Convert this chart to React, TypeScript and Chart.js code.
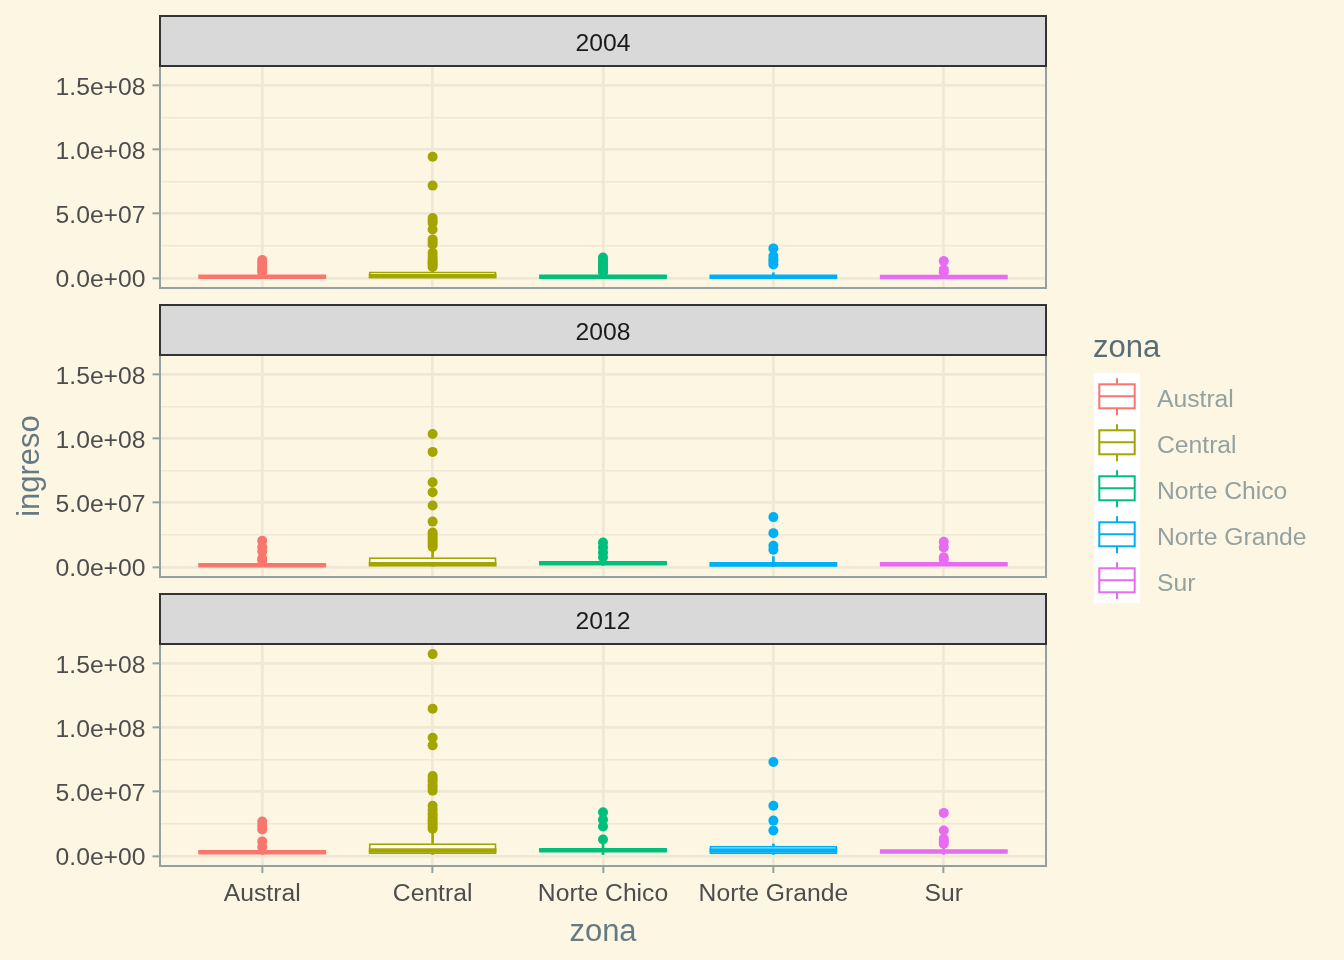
import React, { useEffect, useRef } from 'react';
import { Chart, registerables } from 'chart.js';

Chart.register(...registerables);

// ---------- data ----------
const zonas = ['Austral', 'Central', 'Norte Chico', 'Norte Grande', 'Sur'];
const years = ['2004', '2008', '2012'];
const zoneColors = ['#F8766D', '#A3A500', '#00BF7D', '#00B0F6', '#E76BF3'];

// per zone: [lower whisker, q1, median, q3, upper whisker]
const box2004 = [
  [0, 0.4e6, 0.9e6, 1.6e6, 3.5e6],
  [0, 0.3e6, 1.3e6, 5.0e6, 7.5e6],
  [0, 0.5e6, 1.0e6, 1.8e6, 3.5e6],
  [0, 0.5e6, 1.0e6, 1.8e6, 4.0e6],
  [0, 0.4e6, 0.8e6, 1.5e6, 3.5e6],
];
const box2008 = [
  [0, 0.6e6, 1.2e6, 2.2e6, 4.5e6],
  [0, 0.5e6, 2.0e6, 7.5e6, 13.7e6],
  [0, 2.0e6, 2.8e6, 3.8e6, 6.0e6],
  [0, 0.3e6, 1.8e6, 3.8e6, 8.0e6],
  [0, 1.2e6, 2.0e6, 3.0e6, 5.0e6],
];
const box2012 = [
  [0, 2.0e6, 2.8e6, 3.8e6, 6.0e6],
  [0, 1.2e6, 4.2e6, 9.8e6, 18.0e6],
  [0, 3.5e6, 4.5e6, 5.8e6, 9.0e6],
  [0, 1.2e6, 4.2e6, 7.9e6, 9.3e6],
  [0, 2.6e6, 3.5e6, 4.8e6, 8.0e6],
];

const out2004 = [
  [4.5e6, 6e6, 8e6, 10e6, 12e6, 13.9e6],
  [8.5e6, 10e6, 11.5e6, 13e6, 15e6, 17e6, 19.5e6, 26e6, 28e6, 30e6, 37.7e6, 42.8e6, 44.5e6, 46.7e6, 71.9e6, 94.4e6],
  [4.5e6, 6e6, 8e6, 10e6, 12e6, 14e6, 15.8e6],
  [10.5e6, 12.5e6, 14.5e6, 17e6, 23e6],
  [4.5e6, 6.5e6, 13.1e6],
];
const out2008 = [
  [5e6, 6.5e6, 12e6, 15.5e6, 20.3e6],
  [15.5e6, 17e6, 19e6, 21e6, 23e6, 25e6, 26.8e6, 35.3e6, 47.9e6, 58.1e6, 65.9e6, 89.6e6, 103.5e6],
  [7.5e6, 11.3e6, 15.2e6, 19e6],
  [13.4e6, 16.5e6, 26.3e6, 38.8e6],
  [5.5e6, 7.5e6, 15.2e6, 19.5e6],
];
const out2012 = [
  [7e6, 11.3e6, 20.6e6, 23.5e6, 26.8e6],
  [21.1e6, 23e6, 25e6, 27e6, 29e6, 31e6, 33e6, 36e6, 39.1e6, 50.7e6, 53e6, 55e6, 58e6, 60e6, 62.3e6, 86.1e6, 92e6, 114.7e6, 157.2e6],
  [12.8e6, 22.9e6, 28.1e6, 34e6],
  [19.8e6, 27.5e6, 39.1e6, 73.2e6],
  [9.5e6, 11.5e6, 13.4e6, 19.8e6, 33.5e6],
];

const yBreaks = [0, 5e7, 1e8, 1.5e8];
const yMinorBreaks = [2.5e7, 7.5e7, 1.25e8];

const boxes = [box2004, box2008, box2012];
const outliers = [out2004, out2008, out2012];

// ---------- style ----------
const FONT = "'Liberation Sans', Arial, Helvetica, sans-serif";
const BG = '#FDF6E3';
const GRID = '#EEE8D5';
const PANEL_BORDER = '#93A1A1';
const STRIP_FILL = '#D9D9D9';
const STRIP_BORDER = '#333333';
const TICK_TEXT = '#4D4D4D';
const TITLE_TEXT = '#657B83';
const LEGEND_TITLE = '#586E75';
const LEGEND_TEXT = '#93A1A1';

const W = 1344;
const H = 960;
const PANEL_LEFT = 160;
const PANEL_RIGHT = 1046;
const PANEL_TOPS = [66, 355, 644];
const PANEL_BOTTOMS = [288, 577, 866];
const STRIP_H = 50;

function sci(v: number): string {
  const [m, e] = v.toExponential(1).split('e');
  const sign = e[0] === '-' ? '-' : '+';
  const d = e.replace(/[+-]/, '').padStart(2, '0');
  return `${m}e${sign}${d}`;
}

const allValues = [...boxes.flat(2), ...outliers.flat(2)];
const dataMax = Math.max(...allValues);
const dataMin = Math.min(...allValues);
const span = dataMax - dataMin;
const Y_MIN = dataMin - 0.05 * span;
const Y_MAX = dataMax + 0.05 * span;

const isMajor = (v: number) => yBreaks.some((b) => Math.abs(b - v) < 1);

function makeConfig(p: number): any {
  const isLast = p === 2;
  const stats = boxes[p];
  const outs = outliers[p];
  const top = PANEL_TOPS[p];
  const bottom = PANEL_BOTTOMS[p];
  const xAxisH = isLast ? H - bottom : 0;

  const facetPlugin = {
    id: 'facet' + p,
    afterDraw(chart: any) {
      const { ctx, chartArea: a } = chart;
      ctx.save();
      ctx.strokeStyle = PANEL_BORDER;
      ctx.lineWidth = 2;
      ctx.strokeRect(a.left, a.top, a.right - a.left, a.bottom - a.top);
      ctx.fillStyle = STRIP_FILL;
      ctx.fillRect(a.left, a.top - STRIP_H, a.right - a.left, STRIP_H);
      ctx.strokeStyle = STRIP_BORDER;
      ctx.lineWidth = 2;
      ctx.strokeRect(a.left, a.top - STRIP_H, a.right - a.left, STRIP_H);
      ctx.fillStyle = '#1A1A1A';
      ctx.font = `24.7px ${FONT}`;
      ctx.textAlign = 'center';
      ctx.textBaseline = 'middle';
      ctx.fillText(years[p], (a.left + a.right) / 2, a.top - STRIP_H / 2 + 3.5);
      ctx.restore();
    },
  };

  const legendPlugin = {
    id: 'zonaLegend',
    afterDraw(chart: any) {
      const ctx = chart.ctx;
      ctx.save();
      ctx.fillStyle = LEGEND_TITLE;
      ctx.font = `31px ${FONT}`;
      ctx.textAlign = 'left';
      ctx.textBaseline = 'middle';
      ctx.fillText('zona', 1093, 348);
      const keyTop = 373.3;
      const keyH = 46;
      ctx.fillStyle = '#FFFFFF';
      ctx.fillRect(1094, keyTop, 46, keyH * zonas.length);
      zonas.forEach((z, k) => {
        const t = keyTop + k * keyH;
        const cx = 1117;
        ctx.strokeStyle = zoneColors[k];
        ctx.lineWidth = 2;
        ctx.beginPath();
        ctx.moveTo(cx, t + 5);
        ctx.lineTo(cx, t + 11);
        ctx.moveTo(cx, t + 35);
        ctx.lineTo(cx, t + 42);
        ctx.stroke();
        ctx.strokeRect(1099.3, t + 11, 35.4, 24);
        ctx.beginPath();
        ctx.moveTo(1099.3, t + 23);
        ctx.lineTo(1134.7, t + 23);
        ctx.stroke();
        ctx.fillStyle = LEGEND_TEXT;
        ctx.font = `24.7px ${FONT}`;
        ctx.fillText(z, 1157, t + 27);
      });
      ctx.restore();
    },
  };

  const halfBox = (ctx: any) => {
    const s = ctx.chart.scales.x;
    if (!s) return 60;
    return s.getPixelForValue(1.375) - s.getPixelForValue(1);
  };

  return {
    type: 'bar',
    data: {
      datasets: [
        {
          type: 'line',
          label: 'mediana',
          data: stats.map((s, i) => ({ x: i + 1, y: s[2] })),
          showLine: false,
          pointStyle: 'line',
          pointRadius: halfBox,
          pointHoverRadius: halfBox,
          pointBorderWidth: 4.5,
          pointBorderColor: zoneColors,
          pointBackgroundColor: zoneColors,
          order: 0,
        },
        {
          type: 'bar',
          label: 'caja',
          data: stats.map((s, i) => ({ x: i + 1, y: [s[1], s[3]] })),
          backgroundColor: '#FFFFFF',
          borderColor: zoneColors,
          borderWidth: 2,
          borderSkipped: false,
          grouped: false,
          barPercentage: 0.75,
          categoryPercentage: 1,
          order: 1,
        },
        {
          type: 'bar',
          label: 'bigote sup',
          data: stats.map((s, i) => ({ x: i + 1, y: [s[3], s[4]] })),
          backgroundColor: zoneColors,
          borderWidth: 0,
          barThickness: 2,
          grouped: false,
          order: 2,
        },
        {
          type: 'bar',
          label: 'bigote inf',
          data: stats.map((s, i) => ({ x: i + 1, y: [s[0], s[1]] })),
          backgroundColor: zoneColors,
          borderWidth: 0,
          barThickness: 2,
          grouped: false,
          order: 2,
        },
        {
          type: 'line',
          label: 'atípicos',
          data: outs.flatMap((arr, i) => arr.map((v) => ({ x: i + 1, y: v }))),
          showLine: false,
          pointStyle: 'circle',
          pointRadius: 5,
          pointHoverRadius: 5,
          pointBorderWidth: 0,
          pointBackgroundColor: (c: any) => zoneColors[(c.raw ? c.raw.x : 1) - 1],
          pointBorderColor: (c: any) => zoneColors[(c.raw ? c.raw.x : 1) - 1],
          order: 3,
        },
      ],
    },
    options: {
      responsive: false,
      maintainAspectRatio: false,
      animation: false,
      events: [],
      devicePixelRatio: 1,
      layout: {
        padding: {
          left: 0,
          right: W - PANEL_RIGHT,
          top,
          bottom: H - bottom - xAxisH,
        },
      },
      plugins: {
        legend: { display: false },
        tooltip: { enabled: false },
        title: { display: false },
      },
      scales: {
        x: {
          type: 'linear',
          min: 0.4,
          max: 5.6,
          offset: false,
          afterBuildTicks: (s: any) => {
            s.ticks = zonas.map((_, i) => ({ value: i + 1 }));
          },
          afterFit: (s: any) => {
            s.height = xAxisH;
          },
          grid: {
            offset: false,
            color: GRID,
            lineWidth: 2.7,
            drawTicks: isLast,
            tickLength: 7,
            tickColor: PANEL_BORDER,
            tickWidth: 2,
          },
          border: { display: false },
          ticks: {
            display: isLast,
            autoSkip: false,
            maxRotation: 0,
            padding: 6,
            color: TICK_TEXT,
            font: { family: FONT, size: 24.7 },
            callback: (v: number) => zonas[Math.round(v) - 1] ?? '',
          },
          title: {
            display: isLast,
            text: 'zona',
            color: TITLE_TEXT,
            font: { family: FONT, size: 31 },
            padding: { top: 0, bottom: 9 },
          },
        },
        y: {
          type: 'linear',
          min: Y_MIN,
          max: Y_MAX,
          afterBuildTicks: (s: any) => {
            s.ticks = [...yBreaks, ...yMinorBreaks]
              .filter((v) => v <= Y_MAX && v >= Y_MIN)
              .sort((a, b) => a - b)
              .map((v) => ({ value: v }));
          },
          afterFit: (s: any) => {
            s.width = PANEL_LEFT;
          },
          grid: {
            color: GRID,
            lineWidth: (c: any) => (c.tick && isMajor(c.tick.value) ? 2.7 : 1.4),
            tickColor: (c: any) => (c.tick && isMajor(c.tick.value) ? PANEL_BORDER : 'rgba(0,0,0,0)'),
            tickLength: 7.5,
            tickWidth: 2,
          },
          border: { display: false },
          ticks: {
            padding: 7,
            labelOffset: 2.5,
            color: TICK_TEXT,
            font: { family: FONT, size: 24.7 },
            callback: (v: number) => (isMajor(v) ? sci(v) : ''),
          },
          title: {
            display: p === 1,
            text: 'ingreso',
            color: TITLE_TEXT,
            font: { family: FONT, size: 31 },
            padding: { top: 12, bottom: 0 },
          },
        },
      },
    },
    plugins: p === 0 ? [facetPlugin, legendPlugin] : [facetPlugin],
  };
}

export default function App() {
  const r0 = useRef<HTMLCanvasElement>(null);
  const r1 = useRef<HTMLCanvasElement>(null);
  const r2 = useRef<HTMLCanvasElement>(null);

  useEffect(() => {
    document.body.style.margin = '0';
    document.body.style.background = BG;
    const refs = [r0, r1, r2];
    const charts = refs.map((r, p) => new Chart(r.current as HTMLCanvasElement, makeConfig(p)));
    return () => charts.forEach((c) => c.destroy());
  }, []);

  const canvasStyle: React.CSSProperties = {
    position: 'absolute',
    left: 0,
    top: 0,
    width: W,
    height: H,
  };

  return (
    <div
      style={{
        position: 'fixed',
        left: 0,
        top: 0,
        width: W,
        height: H,
        background: BG,
        overflow: 'hidden',
      }}
    >
      <canvas ref={r0} width={W} height={H} style={canvasStyle} />
      <canvas ref={r1} width={W} height={H} style={canvasStyle} />
      <canvas ref={r2} width={W} height={H} style={canvasStyle} />
    </div>
  );
}
